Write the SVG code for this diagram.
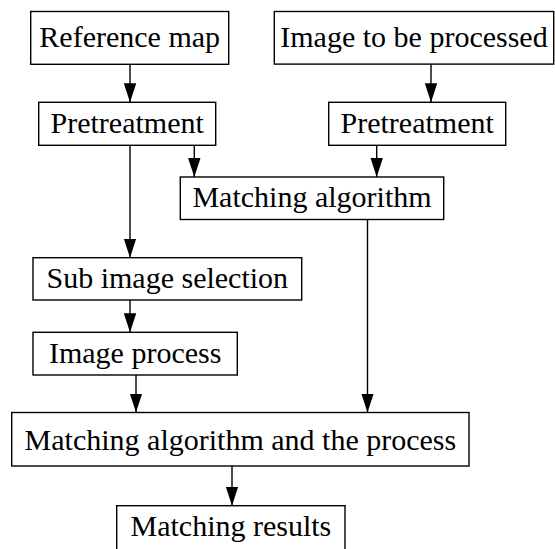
<svg xmlns="http://www.w3.org/2000/svg" width="555" height="549" viewBox="0 0 555 549">
<style>
.box{fill:#fff;stroke:#000;stroke-width:1.4}
.lbl{font-family:'Liberation Serif','Times New Roman',Times,serif;font-size:30px;fill:#000;text-anchor:middle}
.con{fill:none;stroke:#000;stroke-width:1.4}
</style>
<defs>
<marker id="ah" markerUnits="userSpaceOnUse" markerWidth="19" markerHeight="13" refX="19" refY="6.2" orient="auto">
<path d="M0,0 L19,6.2 L0,12.4 z" fill="#000"/>
</marker>
</defs>
<rect width="555" height="549" fill="#fff"/>
<g id="connectors">
<line class="con" x1="130" y1="64.3" x2="130" y2="102.3" marker-end="url(#ah)"/>
<line class="con" x1="431" y1="64" x2="431" y2="102.3" marker-end="url(#ah)"/>
<line class="con" x1="194.3" y1="145.3" x2="194.3" y2="177" marker-end="url(#ah)"/>
<line class="con" x1="376.7" y1="145.3" x2="376.7" y2="177" marker-end="url(#ah)"/>
<line class="con" x1="130" y1="145.3" x2="130" y2="257.7" marker-end="url(#ah)"/>
<line class="con" x1="130" y1="300" x2="130" y2="332.3" marker-end="url(#ah)"/>
<line class="con" x1="136" y1="375" x2="136" y2="412.5" marker-end="url(#ah)"/>
<line class="con" x1="367.5" y1="219.5" x2="367.5" y2="412.5" marker-end="url(#ah)"/>
<line class="con" x1="232" y1="466" x2="232" y2="505.7" marker-end="url(#ah)"/>
</g>
<g font-family="Liberation Serif, serif">
<g id="reference-map">
<rect class="box" x="30.7" y="11.5" width="198" height="52.8"/>
<text class="lbl" x="129.7" y="46.7">Reference map</text>
</g>
<g id="image-to-be-processed">
<rect class="box" x="274.3" y="11.5" width="279.4" height="52.6"/>
<text class="lbl" x="414" y="46.7">Image to be processed</text>
</g>
<g id="pretreatment-left">
<rect class="box" x="38.7" y="102.3" width="177" height="43"/>
<text class="lbl" x="127.2" y="132.7">Pretreatment</text>
</g>
<g id="pretreatment-right">
<rect class="box" x="328.7" y="102.3" width="177" height="43"/>
<text class="lbl" x="417.2" y="132.7">Pretreatment</text>
</g>
<g id="matching-algorithm">
<rect class="box" x="180.3" y="177" width="263.4" height="42.5"/>
<text class="lbl" x="312" y="206.9">Matching algorithm</text>
</g>
<g id="sub-image-selection">
<rect class="box" x="33" y="257.7" width="268.7" height="42.3"/>
<text class="lbl" x="167.3" y="288.3">Sub image selection</text>
</g>
<g id="image-process">
<rect class="box" x="33" y="332.3" width="204.3" height="42.7"/>
<text class="lbl" x="135.2" y="363.3">Image process</text>
</g>
<g id="matching-algorithm-process">
<rect class="box" x="11.7" y="412.5" width="457.3" height="53.5"/>
<text class="lbl" x="240.4" y="450">Matching algorithm and the process</text>
</g>
<g id="matching-results">
<rect class="box" x="116.7" y="505.7" width="228.3" height="60"/>
<text class="lbl" x="230.9" y="536">Matching results</text>
</g>
</g>
</svg>
